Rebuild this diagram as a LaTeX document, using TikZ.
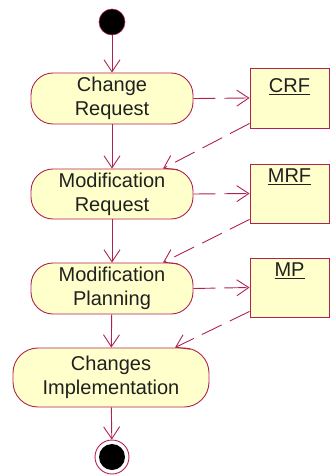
\documentclass[tikz,border=0pt]{standalone}
\usepackage{fontspec}
\setmainfont{Liberation Sans}
\usetikzlibrary{arrows.meta,calc}
\definecolor{umlline}{HTML}{B0234E}
\definecolor{umlfill}{HTML}{FFFFCC}
\definecolor{umltext}{HTML}{202020}
\begin{document}
\begin{tikzpicture}[x=1pt,y=-1pt,
  font=\fontsize{20}{24}\selectfont, text=umltext,
  activity/.style={draw=umlline, fill=umlfill, line width=0.9pt, rounded corners=22pt,
    minimum width=162pt, minimum height=51pt, align=center, inner sep=0pt},
  objbox/.style={draw=umlline, fill=umlfill, line width=0.9pt,
    minimum width=79pt, minimum height=60pt, inner sep=0pt},
  objname/.style={anchor=north, inner sep=0pt},
  flow/.style={draw=umlline, line width=0.9pt, -{Straight Barb[length=12pt,width=16pt,line width=0.9pt]}},
  objflow/.style={flow, dash pattern=on 22pt off 9pt},
]
\useasboundingbox (0,0) rectangle (330,476);

% start and end states
\node[circle, fill=black, draw=umlline, line width=0.6pt, minimum size=26pt, inner sep=0pt] (start) at (112,22) {};
\node[circle, draw=umlline, fill=white, line width=0.9pt, minimum size=34pt, inner sep=0pt] (stop) at (112,457) {};
\fill[black] (stop.center) circle (13pt);

% activities
\node[activity] (cr) at (112,98.5) {Change\\Request};
\node[activity, minimum height=50pt] (mr) at (112,194) {Modification\\Request};
\node[activity] (mp) at (112,288.5) {Modification\\Planning};
\node[activity, minimum width=196pt, minimum height=59pt, rounded corners=25pt] (ci) at (111,377.5) {Changes\\Implementation};

% objects
\node[objbox] (crf) at (289.5,98) {};
\node[objname] (crft) at ([yshift=-11pt]crf.north) {\underline{CRF}};
\node[objbox, minimum height=59pt] (mrf) at (289.5,193.5) {};
\node[objname] (mrft) at ([yshift=-5pt]mrf.north) {\underline{MRF}};
\node[objbox, minimum height=59pt] (mpo) at (289.5,287.5) {};
\node[objname] (mpot) at ([yshift=-5pt]mpo.north) {\underline{MP}};

% control flow
\draw[flow] (start) -- (cr);
\draw[flow] (cr) -- (mr);
\draw[flow] (mr) -- (mp);
\draw[flow] (mp) -- (ci);
\draw[flow] (ci) -- (stop);

% object flow
\draw[objflow] (cr.east) -- (crf.west);
\draw[objflow] ([yshift=5pt]crf.south west) -- ([xshift=51pt]mr.north);
\draw[objflow] (mr.east) -- (mrf.west);
\draw[objflow] ([yshift=4pt]mrf.south west) -- ([xshift=51pt]mp.north);
\draw[objflow] (mp.east) -- (mpo.west);
\draw[objflow] ([yshift=6pt]mpo.south west) -- ([xshift=64pt]ci.north);
\end{tikzpicture}
\end{document}
